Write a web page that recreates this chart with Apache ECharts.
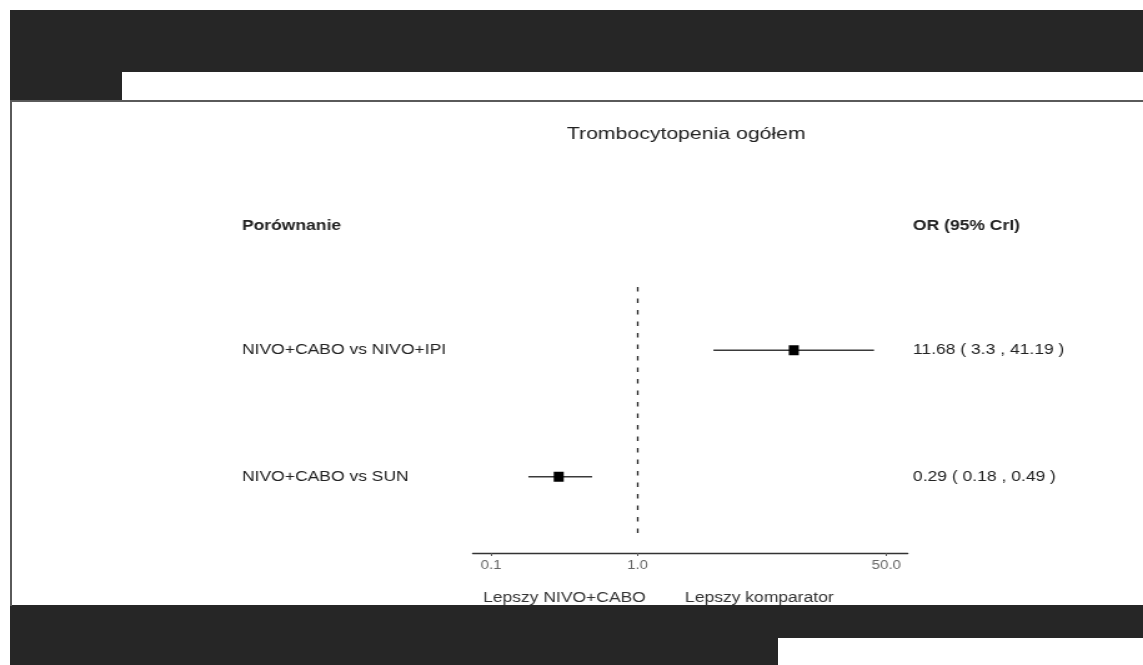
<!DOCTYPE html>
<html>
<head>
<meta charset="utf-8">
<script src="https://cdn.jsdelivr.net/npm/echarts@6/dist/echarts.min.js"></script>
<style>
  html, body { margin: 0; padding: 0; background: #ffffff; overflow: hidden; }
  body { width: 1143px; height: 665px; position: relative; }
  /* plot is laid out at a narrower width and widened horizontally */
  #chart { position: absolute; left: 0; top: 0; width: 915px; height: 665px;
           transform: scaleX(1.2492); transform-origin: 0 0; }
  .band { position: absolute; background: #262626; z-index: 2; }
  .inset { position: absolute; background: #ffffff; z-index: 3; }
  .rule { position: absolute; background: #5a5a5a; z-index: 3; }
</style>
</head>
<body>
<div id="chart"></div>
<!-- window frame around the plot -->
<div class="band" style="left:10px; top:10px; width:1133px; height:91px;"></div>
<div class="inset" style="left:122px; top:72px; width:1021px; height:28px;"></div>
<div class="rule" style="left:10px; top:100px; width:1133px; height:2px;"></div>
<div class="rule" style="left:10px; top:100px; width:2px; height:506px;"></div>
<div class="band" style="left:10px; top:605px; width:1133px; height:60px;"></div>
<div class="inset" style="left:778px; top:638px; width:365px; height:27px;"></div>
<script>
// Odds ratios with 95% credible intervals
const comparisons = ['NIVO+CABO vs NIVO+IPI', 'NIVO+CABO vs SUN'];
const oddsRatio = [11.68, 0.29];
const lowerCrI = [3.3, 0.18];
const upperCrI = [41.19, 0.49];
const tickValues = [0.1, 1, 50];

const SX = 1.2492;            // horizontal widening of the canvas
const px = x => x / SX;       // page x -> canvas x

const font = '"Liberation Sans", Arial, sans-serif';
const chart = echarts.init(document.getElementById('chart'), null, { renderer: 'canvas' });

const intervals = comparisons.map((c, i) => [lowerCrI[i], upperCrI[i], oddsRatio[i], i]);

chart.setOption({
  backgroundColor: '#ffffff',
  animation: false,
  title: {
    text: 'Trombocytopenia ogółem',
    left: px(680),
    top: 121,
    textAlign: 'center',
    textStyle: { fontFamily: font, fontSize: 17, fontWeight: 'normal', color: '#222' }
  },
  grid: { left: px(472.7), right: 915 - px(907.7), top: 287, bottom: 125 },
  xAxis: {
    type: 'log',
    logBase: 10,
    min: 0.075,
    max: 70,
    offset: 13,
    splitLine: { show: false },
    axisLine: { show: true, lineStyle: { color: '#333', width: 1.3 } },
    axisTick: { show: true, customValues: tickValues, length: 3, lineStyle: { color: '#555', width: 1 } },
    axisLabel: {
      customValues: tickValues,
      margin: 7,
      fontFamily: font,
      fontSize: 12,
      color: '#666',
      formatter: v => Number(v).toFixed(1)
    }
  },
  yAxis: [
    {
      type: 'category',
      data: comparisons,
      inverse: true,
      axisLine: { show: false },
      axisTick: { show: false },
      splitLine: { show: false },
      axisLabel: {
        align: 'left',
        margin: px(472.7) - px(242),
        fontFamily: font,
        fontSize: 14,
        color: '#222'
      }
    },
    {
      type: 'category',
      data: comparisons,
      inverse: true,
      position: 'right',
      axisLine: { show: false },
      axisTick: { show: false },
      splitLine: { show: false },
      axisLabel: {
        align: 'left',
        margin: px(913) - px(907.7),
        fontFamily: font,
        fontSize: 14,
        color: '#222',
        formatter: (v, i) => `${oddsRatio[i]} ( ${lowerCrI[i]} , ${upperCrI[i]} )`
      }
    }
  ],
  series: [
    {
      type: 'custom',
      yAxisIndex: 0,
      data: intervals,
      renderItem: (params, api) => {
        const row = api.value(3);
        const lo = api.coord([api.value(0), row]);
        const hi = api.coord([api.value(1), row]);
        const mid = api.coord([api.value(2), row]);
        const w = px(10), h = 10;
        return {
          type: 'group',
          children: [
            { type: 'line', shape: { x1: lo[0], y1: lo[1], x2: hi[0], y2: hi[1] },
              style: { stroke: '#3a3a3a', lineWidth: 1.3 } },
            { type: 'rect', shape: { x: mid[0] - w / 2, y: mid[1] - h / 2, width: w, height: h },
              style: { fill: '#000' } }
          ]
        };
      },
      markLine: {
        silent: true,
        symbol: 'none',
        label: { show: false },
        lineStyle: { color: '#222', width: 1.3, type: [4.5, 7] },
        data: [{ xAxis: 1 }]
      }
    }
  ],
  graphic: [
    { type: 'text', left: px(242), top: 219,
      style: { text: 'Porównanie', font: 'bold 14px ' + font, fill: '#222' } },
    { type: 'text', left: px(913), top: 219,
      style: { text: 'OR (95% CrI)', font: 'bold 14px ' + font, fill: '#222' } },
    { type: 'text', left: px(483), top: 591,
      style: { text: 'Lepszy NIVO+CABO', font: '14px ' + font, fill: '#333' } },
    { type: 'text', left: px(685), top: 591,
      style: { text: 'Lepszy komparator', font: '14px ' + font, fill: '#333' } }
  ]
});
</script>
</body>
</html>
